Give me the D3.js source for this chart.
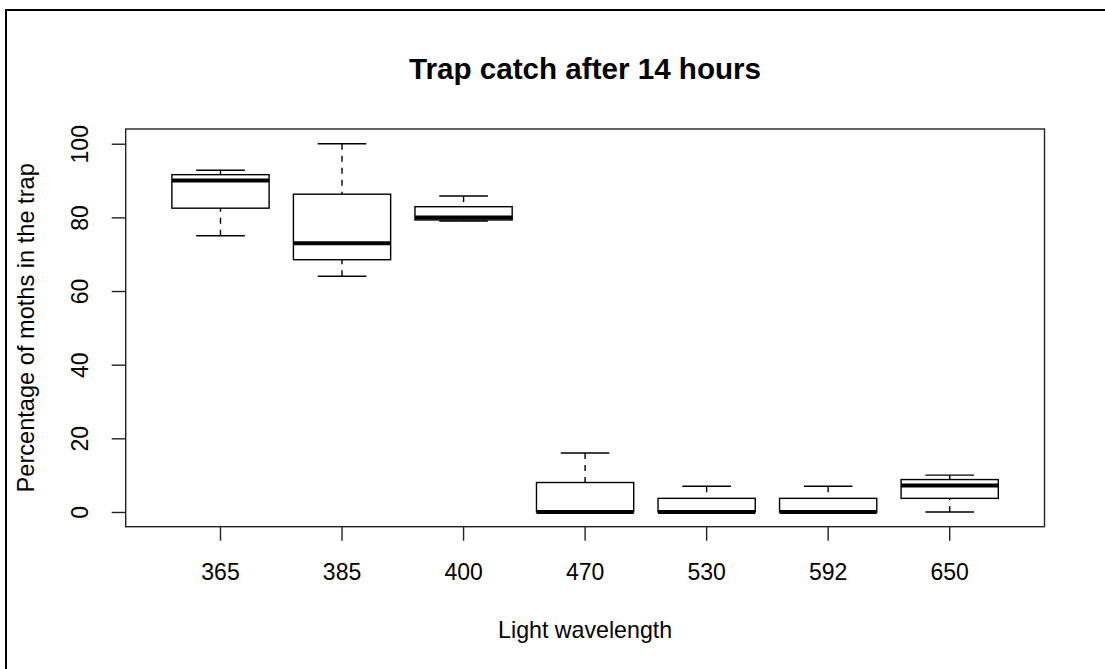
<!DOCTYPE html>
<html>
<head>
<meta charset="utf-8">
<script src="https://cdn.jsdelivr.net/npm/d3@7"></script>
<style>
  html, body { margin: 0; padding: 0; background: #fff; }
  svg { display: block; }
  text { font-family: "Liberation Sans", Arial, sans-serif; fill: #000; }
</style>
</head>
<body>
<svg id="chart" width="1105" height="669"></svg>
<script>
// Wavelength groups (nm) and five-number summaries per group
const categories = ["365", "385", "400", "470", "530", "592", "650"];
const whiskerLow  = [75.0, 64.0, 79.0,  0.0, 0.0, 0.0,  0.0];
const lowerQuart  = [82.5, 68.5, 79.3,  0.0, 0.0, 0.0,  3.7];
const medians     = [90.0, 73.0, 80.0,  0.0, 0.0, 0.0,  7.2];
const upperQuart  = [91.6, 86.3, 82.9,  8.0, 3.7, 3.7,  8.8];
const whiskerHigh = [92.8, 100.0, 85.8, 16.0, 7.0, 7.0, 10.0];
const yTicks = [0, 20, 40, 60, 80, 100];

const titleText = "Trap catch after 14 hours";
const xTitle = "Light wavelength";
const yTitle = "Percentage of moths in the trap";

const svg = d3.select("#chart");
const W = 1105, H = 669;
const plot = { left: 125.7, right: 1044.5, top: 129, bottom: 526.7 };

// Outer frame around the figure
svg.append("rect")
  .attr("x", 6).attr("y", 10)
  .attr("width", W + 40).attr("height", H + 40)
  .attr("fill", "none").attr("stroke", "#000").attr("stroke-width", 2);

const x = d3.scaleBand()
  .domain(categories)
  .range([plot.left, plot.right])
  .paddingInner(0.2)
  .paddingOuter(0.38);

const y = d3.scaleLinear()
  .domain([-4, 104])
  .range([plot.bottom, plot.top]);

const stats = categories.map((c, i) => ({
  key: c,
  min: whiskerLow[i], q1: lowerQuart[i], med: medians[i],
  q3: upperQuart[i], max: whiskerHigh[i]
}));

const bw = x.bandwidth();
const staple = bw / 2;

const boxes = svg.append("g").attr("class", "boxes")
  .selectAll("g").data(stats).join("g")
  .attr("transform", d => `translate(${x(d.key) + bw / 2},0)`);

// dashed whiskers, drawn from the extremes toward the box
boxes.append("line")
  .attr("x1", 0).attr("x2", 0)
  .attr("y1", d => y(d.max)).attr("y2", d => y(d.q3))
  .attr("stroke", "#000").attr("stroke-width", 1.4)
  .attr("stroke-dasharray", "6,6");
boxes.append("line")
  .attr("x1", 0).attr("x2", 0)
  .attr("y1", d => y(d.min)).attr("y2", d => y(d.q1))
  .attr("stroke", "#000").attr("stroke-width", 1.4)
  .attr("stroke-dasharray", "6,6");

// staples
boxes.selectAll("line.staple")
  .data(d => [d.min, d.max]).join("line")
  .attr("class", "staple")
  .attr("x1", -staple / 2).attr("x2", staple / 2)
  .attr("y1", v => y(v)).attr("y2", v => y(v))
  .attr("stroke", "#000").attr("stroke-width", 1.4);

// boxes
boxes.append("rect")
  .attr("x", -bw / 2).attr("width", bw)
  .attr("y", d => y(d.q3))
  .attr("height", d => y(d.q1) - y(d.q3))
  .attr("fill", "#fff").attr("stroke", "#000").attr("stroke-width", 1.4);

// medians
boxes.append("line")
  .attr("x1", -bw / 2).attr("x2", bw / 2)
  .attr("y1", d => y(d.med)).attr("y2", d => y(d.med))
  .attr("stroke", "#000").attr("stroke-width", 4);

// plot frame
svg.append("rect")
  .attr("x", plot.left).attr("y", plot.top)
  .attr("width", plot.right - plot.left)
  .attr("height", plot.bottom - plot.top)
  .attr("fill", "none").attr("stroke", "#222").attr("stroke-width", 1.4);

// x axis
const xAxis = svg.append("g")
  .attr("transform", `translate(0,${plot.bottom})`)
  .call(d3.axisBottom(x).tickSize(14).tickSizeOuter(0));
xAxis.select(".domain").remove();
xAxis.selectAll(".tick line").attr("stroke", "#222").attr("stroke-width", 1.4);
xAxis.selectAll(".tick text")
  .attr("y", 580 - plot.bottom).attr("dy", 0)
  .attr("font-size", 23).attr("fill", "#000")
  .style("font-family", "'Liberation Sans', Arial, sans-serif");

// y axis
const yAxis = svg.append("g")
  .attr("transform", `translate(${plot.left},0)`)
  .call(d3.axisLeft(y).tickValues(yTicks).tickSize(14).tickSizeOuter(0));
yAxis.select(".domain").remove();
yAxis.selectAll(".tick line").attr("stroke", "#222").attr("stroke-width", 1.4);
yAxis.selectAll(".tick text")
  .attr("x", 0).attr("y", 0).attr("dy", 0)
  .attr("text-anchor", "middle")
  .attr("transform", `translate(${87.5 - plot.left},0) rotate(-90)`)
  .attr("font-size", 23).attr("fill", "#000")
  .style("font-family", "'Liberation Sans', Arial, sans-serif");

// titles
svg.append("text")
  .attr("x", (plot.left + plot.right) / 2).attr("y", 79)
  .attr("text-anchor", "middle")
  .attr("font-size", 29.6).attr("font-weight", "bold")
  .text(titleText);

svg.append("text")
  .attr("x", (plot.left + plot.right) / 2).attr("y", 637.5)
  .attr("text-anchor", "middle")
  .attr("font-size", 23.2)
  .text(xTitle);

svg.append("text")
  .attr("transform", `translate(33.5,${(plot.top + plot.bottom) / 2}) rotate(-90)`)
  .attr("text-anchor", "middle")
  .attr("font-size", 23.6)
  .text(yTitle);
</script>
</body>
</html>
